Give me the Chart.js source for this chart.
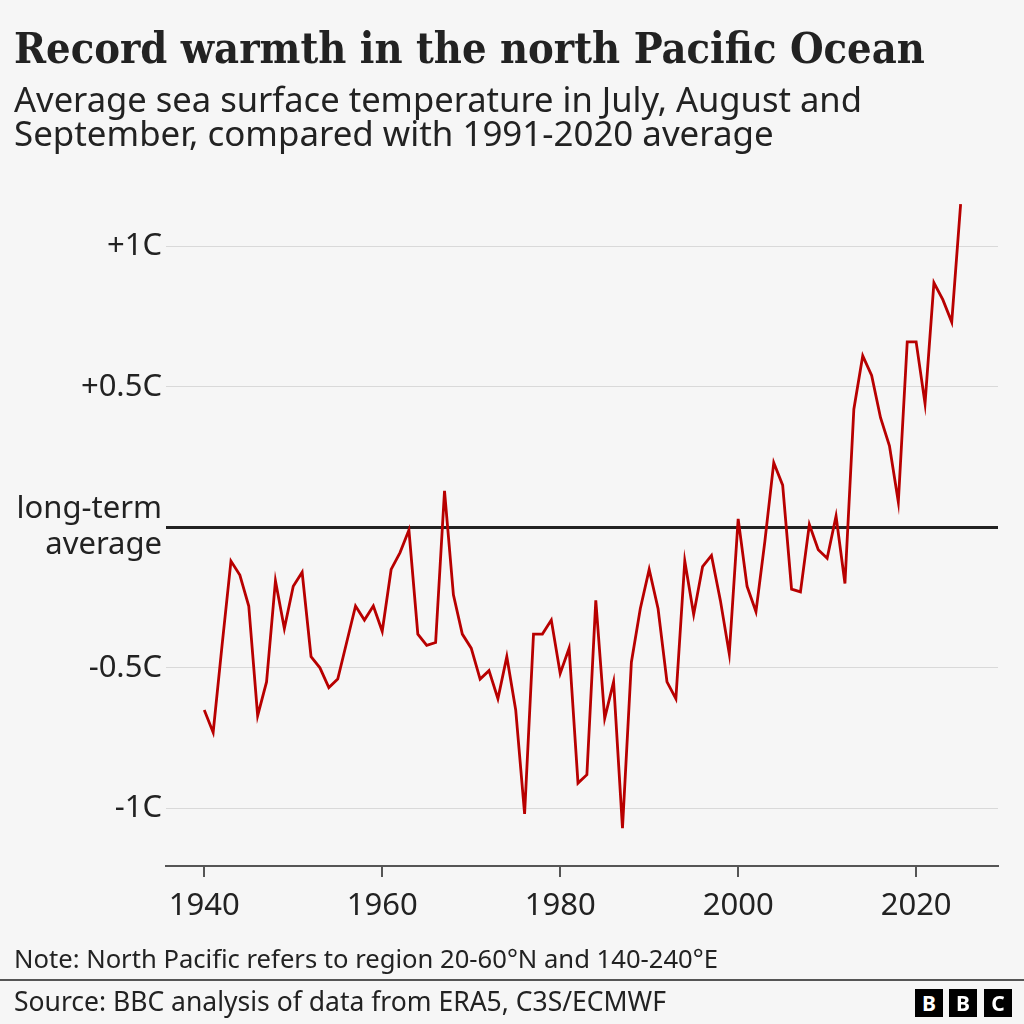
<!DOCTYPE html>
<html><head><meta charset="utf-8">
<script src="https://cdn.jsdelivr.net/npm/chart.js@4.4.0/dist/chart.umd.min.js"></script>
<style>
html,body{margin:0;padding:0;background:#f6f6f6;width:1024px;height:1024px;overflow:hidden}
#wrap{position:absolute;left:0;top:0;width:1024px;height:1024px}
.t{position:absolute;left:14px;white-space:nowrap;line-height:1}
#sep{position:absolute;left:0;top:979px;width:1024px;height:1.5px;background:#555}
.logo{position:absolute;top:989px;width:28px;height:28px;background:#000;color:#fff;font:bold 21px "Noto Sans",sans-serif;text-align:center;line-height:28px}
</style></head>
<body>
<div id="wrap"><canvas id="c" width="1024" height="1024"></canvas></div>
<div id="sep"></div>
<div class="logo" style="left:915px">B</div>
<div class="logo" style="left:949px">B</div>
<div class="logo" style="left:984px">C</div>
<script>
const years = [1940,1941,1942,1943,1944,1945,1946,1947,1948,1949,
1950,1951,1952,1953,1954,1955,1956,1957,1958,1959,
1960,1961,1962,1963,1964,1965,1966,1967,1968,1969,
1970,1971,1972,1973,1974,1975,1976,1977,1978,1979,
1980,1981,1982,1983,1984,1985,1986,1987,1988,1989,
1990,1991,1992,1993,1994,1995,1996,1997,1998,1999,
2000,2001,2002,2003,2004,2005,2006,2007,2008,2009,
2010,2011,2012,2013,2014,2015,2016,2017,2018,2019,
2020,2021,2022,2023,2024,2025];
const anomaly = [-0.65,-0.73,-0.42,-0.12,-0.17,-0.28,-0.67,-0.55,-0.19,-0.36,
-0.21,-0.16,-0.46,-0.50,-0.57,-0.54,-0.41,-0.28,-0.33,-0.28,
-0.37,-0.15,-0.09,-0.01,-0.38,-0.42,-0.41,0.13,-0.24,-0.38,
-0.43,-0.54,-0.51,-0.61,-0.46,-0.65,-1.02,-0.38,-0.38,-0.33,
-0.52,-0.43,-0.91,-0.88,-0.26,-0.68,-0.55,-1.07,-0.48,-0.29,
-0.15,-0.29,-0.55,-0.61,-0.12,-0.31,-0.14,-0.10,-0.26,-0.45,
0.03,-0.21,-0.30,-0.05,0.23,0.15,-0.22,-0.23,0.01,-0.08,
-0.11,0.04,-0.20,0.42,0.61,0.54,0.39,0.29,0.09,0.66,
0.66,0.44,0.87,0.81,0.73,1.15];
const yTickValues = [-1, -0.5, 0, 0.5, 1];
const yTickLabels = ['-1C', '-0.5C', ['long-term', 'average'], '+0.5C', '+1C'];
const xTickValues = [1940, 1960, 1980, 2000, 2020];

function place(text, family, weight, targetW, baseline, color){
  const el = document.createElement('div');
  el.className = 't';
  el.style.fontFamily = family;
  el.style.fontWeight = weight;
  el.style.color = color;
  const span = document.createElement('span');
  span.textContent = text;
  el.appendChild(span);
  const mark = document.createElement('span');
  mark.style.display = 'inline-block';
  mark.style.width = '0';
  mark.style.height = '0';
  el.appendChild(mark);
  document.body.appendChild(el);
  el.style.fontSize = '100px';
  const w = span.getBoundingClientRect().width;
  el.style.fontSize = (100 * targetW / w) + 'px';
  const b = mark.offsetTop;
  el.style.top = (baseline - b) + 'px';
}
const SANS = '"Noto Sans", sans-serif';
place('Record warmth in the north Pacific Ocean', '"DejaVu Serif Condensed","DejaVu Serif",serif', 'bold', 911, 63, '#222');
place('Average sea surface temperature in July, August and', SANS, 'normal', 848, 112, '#222');
place('September, compared with 1991-2020 average', SANS, 'normal', 760, 146, '#222');
place('Note: North Pacific refers to region 20-60\u00B0N and 140-240\u00B0E', SANS, 'normal', 704, 968, '#222');
place('Source: BBC analysis of data from ERA5, C3S/ECMWF', SANS, 'normal', 652, 1011, '#222');

const tickFont = {family: 'Noto Sans', size: 31, lineHeight: 1.16};
new Chart(document.getElementById('c'), {
  type: 'line',
  data: {
    datasets: [{
      data: years.map((y, i) => ({x: y, y: anomaly[i]})),
      borderColor: '#b80000',
      borderWidth: 2.8,
      pointRadius: 0,
      tension: 0,
      fill: false
    }]
  },
  options: {
    responsive: false,
    animation: false,
    devicePixelRatio: 1,
    layout: {padding: {top: 190, right: 26, left: 0, bottom: 0}},
    plugins: {legend: {display: false}, tooltip: {enabled: false}},
    scales: {
      x: {
        type: 'linear',
        min: 1935.7,
        max: 2029.2,
        afterBuildTicks: s => { s.ticks = xTickValues.map(v => ({value: v})); },
        afterFit: s => { s.height = 158; },
        grid: {drawOnChartArea: false, drawTicks: true, tickLength: 11, color: '#555', lineWidth: 2},
        border: {display: true, color: '#555', width: 2},
        ticks: {font: tickFont, color: '#222', padding: 11, maxRotation: 0, autoSkip: false,
          callback: v => String(v)}
      },
      y: {
        type: 'linear',
        min: -1.205,
        max: 1.2,
        afterBuildTicks: s => { s.ticks = yTickValues.map(v => ({value: v})); },
        afterFit: s => { s.width = 166; },
        grid: {
          drawTicks: false,
          color: c => (c.tick && c.tick.value === 0) ? '#222' : '#d9d9d9',
          lineWidth: c => (c.tick && c.tick.value === 0) ? 3 : 1
        },
        border: {display: false},
        ticks: {font: tickFont, color: '#222', padding: 4, autoSkip: false,
          callback: v => yTickLabels[yTickValues.indexOf(v)]}
      }
    }
  }
});
</script>
</body></html>
